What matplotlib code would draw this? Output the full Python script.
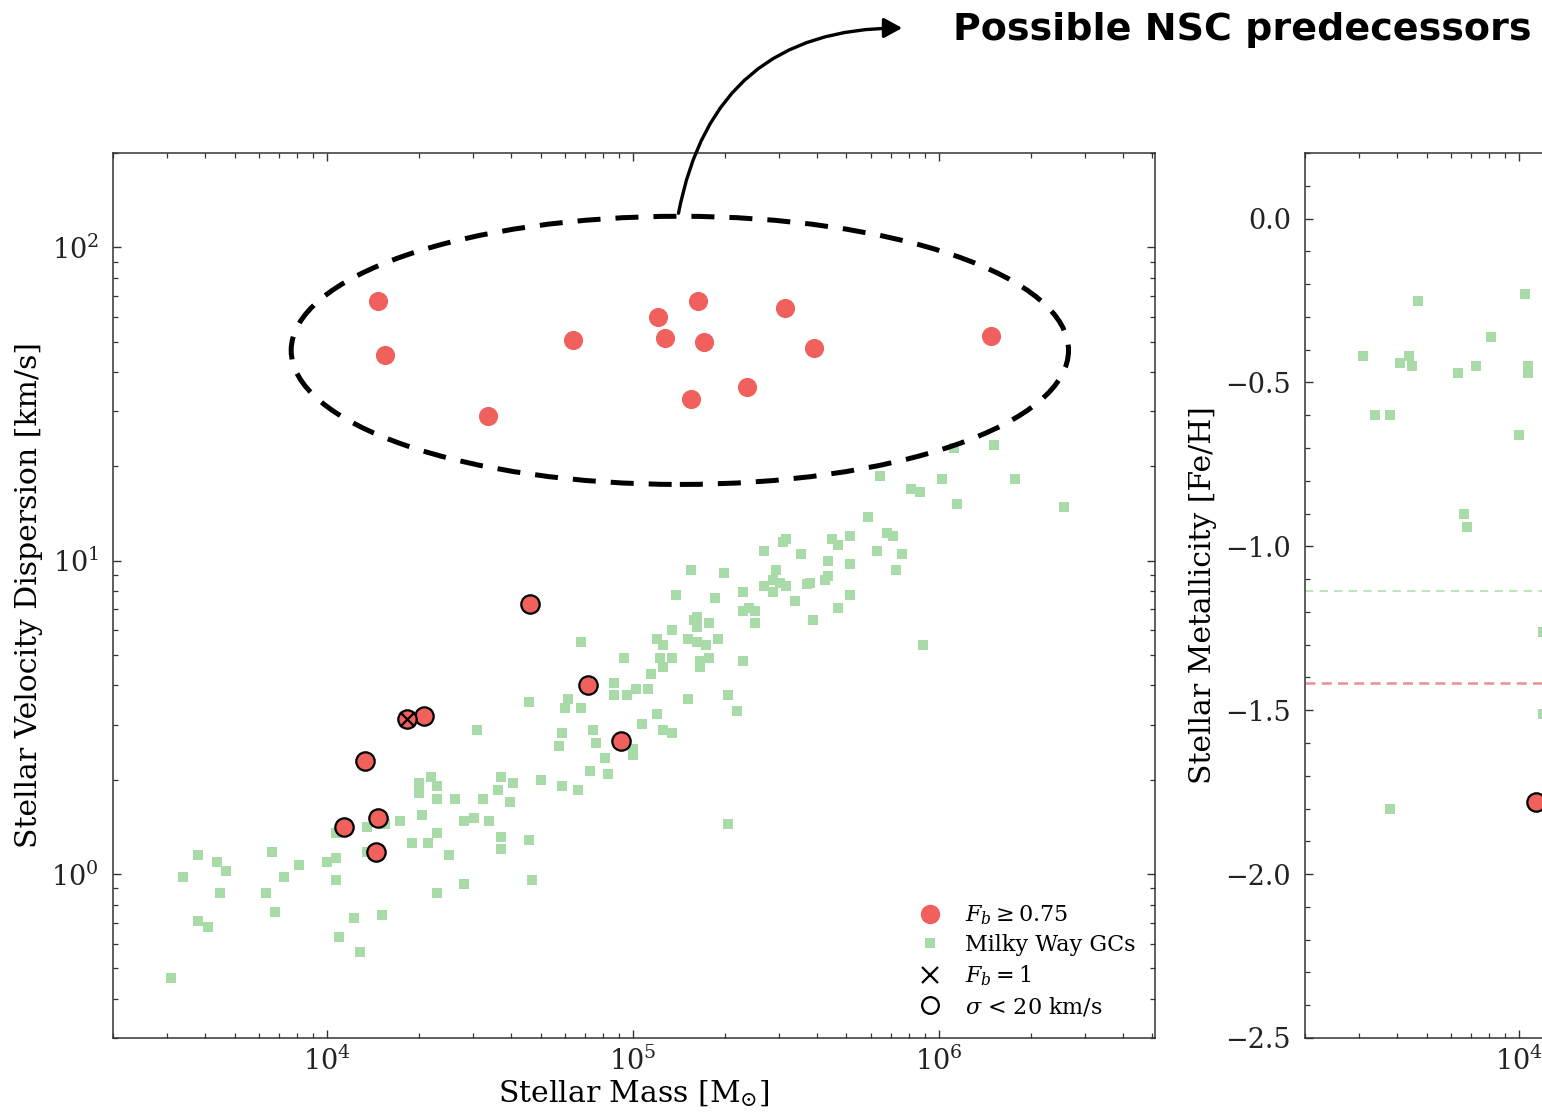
import numpy as np
import matplotlib
matplotlib.use('Agg')
import matplotlib.pyplot as plt
from matplotlib.patches import Ellipse, FancyArrowPatch
from matplotlib.lines import Line2D
from matplotlib.ticker import MultipleLocator

plt.rcParams['font.family'] = ['DejaVu Serif']
plt.rcParams['mathtext.fontset'] = 'dejavuserif'

# ---------------- data ----------------
# Milky Way GCs: log10 stellar mass [Msun], log10 velocity dispersion [km/s]
gc_log_mass = [3.49, 3.53, 3.58, 3.64, 3.67, 3.65, 3.58, 3.61, 3.82, 3.86, 3.91, 3.80, 3.83,
               4.00, 4.03, 4.03, 4.09, 4.04, 4.11, 4.18, 4.13, 4.19, 4.03, 4.13,
               4.83, 4.97, 4.66, 4.79, 4.78, 4.83, 4.94, 4.94, 4.98, 5.01, 4.49, 4.77, 4.76,
               4.87, 4.88, 5.00, 5.00, 4.91, 4.86, 4.92, 4.34, 4.30, 4.30, 4.36, 4.36, 4.42,
               4.31, 4.24, 4.51, 4.57, 4.56, 4.60, 4.61, 4.70, 4.77, 4.82, 4.45, 4.48, 4.53,
               4.36, 4.28, 4.33, 4.57, 4.57, 4.66, 4.40, 4.45, 4.36, 4.67, 5.31,
               6.18, 6.05, 6.25, 6.41, 6.01, 6.06, 5.81, 5.91, 5.94, 5.77, 5.83, 5.85, 5.80,
               5.88, 5.86, 5.95, 5.50, 5.49, 5.65, 5.67, 5.71, 5.43, 5.55, 5.64, 5.71, 5.19,
               5.30, 5.47, 5.46, 5.48, 5.50, 5.43, 5.58, 5.57, 5.64, 5.63, 5.14, 5.27, 5.36,
               5.46, 5.71, 5.53, 5.67, 5.59, 5.36, 5.38, 5.40, 5.40, 5.21, 5.20, 5.21, 5.25,
               5.13, 5.08, 5.10, 5.18, 5.21, 5.24, 5.28, 5.09, 5.10, 5.13, 5.22, 5.25, 5.22,
               5.36, 5.06, 5.05, 5.18, 5.31, 5.34, 5.08, 5.10, 5.13, 5.03]
gc_log_sigma = [-0.33, -0.01, 0.06, 0.04, 0.01, -0.06, -0.15, -0.17, 0.07, -0.01, 0.03, -0.06, -0.12,
                0.04, 0.05, -0.02, -0.14, -0.20, -0.25, -0.13, 0.15, 0.16, 0.13, 0.07,
                0.74, 0.69, 0.55, 0.56, 0.53, 0.53, 0.61, 0.57, 0.57, 0.59, 0.46, 0.45, 0.41,
                0.46, 0.42, 0.40, 0.38, 0.37, 0.33, 0.32, 0.31, 0.29, 0.26, 0.28, 0.24, 0.24,
                0.19, 0.17, 0.24, 0.31, 0.27, 0.23, 0.29, 0.30, 0.28, 0.27, 0.17, 0.18, 0.17,
                0.13, 0.10, 0.10, 0.12, 0.08, 0.11, 0.06, -0.03, -0.06, -0.02, 0.16,
                1.37, 1.36, 1.26, 1.17, 1.26, 1.18, 1.27, 1.23, 1.22, 1.14, 1.09, 1.08, 1.03,
                1.02, 0.97, 0.73, 1.07, 1.06, 1.07, 1.05, 1.08, 1.03, 1.02, 1.00, 0.99, 0.97,
                0.96, 0.97, 0.94, 0.93, 0.92, 0.92, 0.93, 0.925, 0.95, 0.94, 0.89, 0.88, 0.90,
                0.90, 0.89, 0.87, 0.85, 0.81, 0.84, 0.85, 0.84, 0.80, 0.82, 0.81, 0.79, 0.80,
                0.78, 0.75, 0.73, 0.75, 0.74, 0.73, 0.75, 0.69, 0.66, 0.69, 0.68, 0.69, 0.66,
                0.68, 0.64, 0.59, 0.56, 0.57, 0.52, 0.51, 0.46, 0.45, 0.48]

# Bound clusters with F_b >= 0.75 and sigma >= 20 km/s
hi_log_mass = [4.167, 4.190, 4.526, 4.804, 5.082, 5.105, 5.212, 5.232, 5.190, 5.373, 5.497, 5.592, 6.170]
hi_log_sigma = [1.828, 1.656, 1.462, 1.704, 1.777, 1.710, 1.828, 1.697, 1.516, 1.554, 1.806, 1.678, 1.717]

# Bound clusters with sigma < 20 km/s
lo_log_mass = [4.663, 4.853, 4.961, 4.317, 4.261, 4.124, 4.056, 4.167, 4.160]
lo_log_sigma = [0.863, 0.605, 0.424, 0.503, 0.494, 0.360, 0.150, 0.178, 0.070]

# F_b = 1 cluster
fb1_log_mass = [4.261]
fb1_log_sigma = [0.494]

# Right panel: metallicities (visible part)
gc_feh_log_mass = [3.49, 3.53, 3.58, 3.61, 3.64, 3.65, 3.67, 3.80, 3.82, 3.83, 3.86, 3.91,
                   4.00, 4.02, 4.03, 4.03, 3.58, 4.08, 4.08]
gc_feh = [-0.42, -0.60, -0.60, -0.44, -0.42, -0.45, -0.25, -0.47, -0.90, -0.94, -0.45, -0.36,
          -0.66, -0.23, -0.45, -0.47, -1.80, -1.26, -1.51]
fb_feh_log_mass = [4.056]
fb_feh = [-1.78]
feh_median_gc = -1.137
feh_median_fb = -1.418

RED = '#f0605d'
GREEN = '#a9dba9'

W, H = 1542, 1118
fig = plt.figure(figsize=(W / 100, H / 100), dpi=100)
ax1 = fig.add_axes([113 / W, 1 - 1038 / H, 1042 / W, 885 / H])
ax2 = fig.add_axes([1305 / W, 1 - 1038 / H, 1042 / W, 885 / H])

def style(ax):
    ax.tick_params(which='both', direction='in', top=True, right=True, colors='#333333',
                   labelcolor='#222222')
    ax.tick_params(which='major', length=6, width=1.0, labelsize=19.5)
    ax.tick_params(which='minor', length=3.5, width=0.9)
    ax.tick_params(axis='y', which='major', pad=10)
    ax.tick_params(axis='x', which='major', pad=6)
    for s in ax.spines.values():
        s.set_color('#333333')
        s.set_linewidth(1.1)

# ---------------- left panel ----------------
ax1.set_xscale('log')
ax1.set_yscale('log')
ax1.scatter(10 ** np.array(gc_log_mass), 10 ** np.array(gc_log_sigma), marker='s', s=62,
            color=GREEN, lw=0, zorder=2)
ax1.scatter(10 ** np.array(hi_log_mass), 10 ** np.array(hi_log_sigma), marker='o', s=190,
            color=RED, lw=0, zorder=3)
ax1.scatter(10 ** np.array(lo_log_mass), 10 ** np.array(lo_log_sigma), marker='o', s=175,
            facecolor=RED, edgecolor='black', lw=1.6, zorder=4)
ax1.scatter(10 ** np.array(fb1_log_mass), 10 ** np.array(fb1_log_sigma), marker='x', s=110,
            color='black', lw=1.6, zorder=5)
ax1.set_xlim(2e3, 5.1e6)
ax1.set_ylim(0.3, 200)
ax1.set_xlabel(r'Stellar Mass [M$_{\odot}$]', fontsize=21.5, labelpad=2)
ax1.set_ylabel('Stellar Velocity Dispersion [km/s]', fontsize=21.5, labelpad=6)
style(ax1)

ell = Ellipse((0.544, 0.777), 0.746, 0.303, transform=ax1.transAxes, fill=False,
              ec='black', lw=3.6, ls=(0, (4.6, 3.0)), zorder=6, clip_on=False)
ax1.add_patch(ell)

handles = [
    Line2D([], [], marker='o', ls='', color=RED, markersize=14, mew=0),
    Line2D([], [], marker='s', ls='', color=GREEN, markersize=7, mew=0),
    Line2D([], [], marker='x', ls='', color='black', markersize=11, mew=1.6),
    Line2D([], [], marker='o', ls='', mfc='none', mec='black', markersize=12, mew=1.6),
]
labels = [r'$F_b \geq 0.75$', 'Milky Way GCs', r'$F_b = 1$', r'$\sigma$ < 20 km/s']
ax1.legend(handles, labels, loc='lower right', frameon=False, fontsize=16,
           handletextpad=0.55, labelspacing=0.32, borderaxespad=0.5)

# ---------------- right panel ----------------
ax2.set_xscale('log')
ax2.scatter(10 ** np.array(gc_feh_log_mass), gc_feh, marker='s', s=62, color=GREEN, lw=0, zorder=2)
ax2.scatter(10 ** np.array(fb_feh_log_mass), fb_feh, marker='o', s=175, facecolor=RED,
            edgecolor='black', lw=1.6, zorder=4)
ax2.axhline(feh_median_gc, color='#bfe3bf', lw=1.5, ls=(0, (4, 3)), zorder=1)
ax2.axhline(feh_median_fb, color='#ea9090', lw=1.8, ls=(0, (4, 2.5)), zorder=1)
ax2.set_xlim(2e3, 5.1e6)
ax2.set_ylim(-2.5, 0.2)
ax2.yaxis.set_major_locator(MultipleLocator(0.5))
ax2.yaxis.set_minor_locator(MultipleLocator(0.1))
ax2.set_ylabel('Stellar Metallicity [Fe/H]', fontsize=21.5, labelpad=6)
style(ax2)

# ---------------- annotation ----------------
arrow = FancyArrowPatch((678 / W, 1 - 216 / H), (905 / W, 1 - 28 / H), transform=fig.transFigure,
                        connectionstyle='arc3,rad=-0.42',
                        arrowstyle='-|>,head_length=0.55,head_width=0.3',
                        mutation_scale=20, lw=2.4, color='black')
fig.add_artist(arrow)
fig.text(953 / W, 1 - 30 / H, 'Possible NSC predecessors', fontsize=27.4, fontweight='bold',
         family='DejaVu Sans', ha='left', va='center')

fig.savefig('out.png', dpi=100)
